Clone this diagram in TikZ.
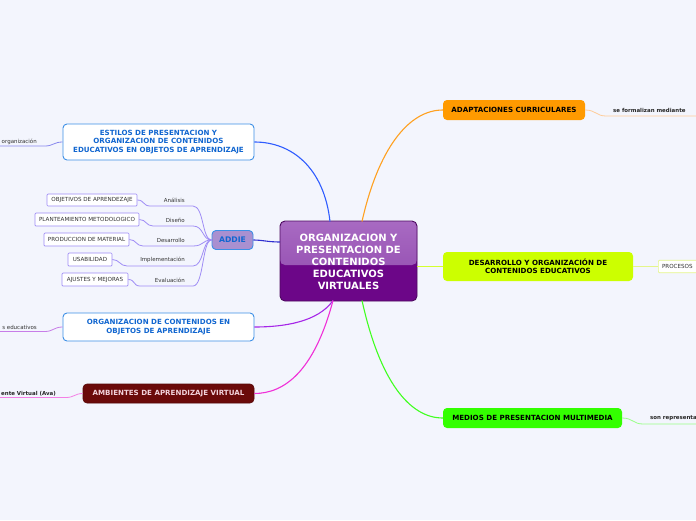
\documentclass[tikz,border=0pt]{standalone}
\usepackage{fontspec}
\setmainfont{DejaVu Sans}
\definecolor{bg}{HTML}{F3F5FD}
\definecolor{blueb}{HTML}{3D8FE6}
\definecolor{bluet}{HTML}{1166D0}
\definecolor{addief}{HTML}{A990D0}
\definecolor{lav}{HTML}{9E8CF5}
\definecolor{txt}{HTML}{333333}
\definecolor{cTopA}{HTML}{A86AC2}
\definecolor{cTopB}{HTML}{8E46AC}
\definecolor{cBot}{HTML}{6C0688}
\definecolor{cBord}{HTML}{4D0A60}
\definecolor{orangef}{HTML}{FF9A00}
\definecolor{limef}{HTML}{CCFF00}
\definecolor{greenf}{HTML}{33FF00}
\definecolor{redf}{HTML}{6B0A0A}
\definecolor{redt}{HTML}{F3D3DC}
\definecolor{lBlue}{HTML}{2F5CFF}
\definecolor{lAddie}{HTML}{3030D0}
\definecolor{lPurple}{HTML}{A626E8}
\definecolor{lMag}{HTML}{F030D8}
\definecolor{lOrange}{HTML}{FFA020}
\definecolor{lLime}{HTML}{D4FF30}
\definecolor{lGreen}{HTML}{40FF20}
\definecolor{sBlue}{HTML}{8888EE}
\definecolor{sPurple}{HTML}{C77DE8}
\definecolor{sMag}{HTML}{F47FE5}
\definecolor{sOrange}{HTML}{FFCC99}
\definecolor{sLime}{HTML}{E4F58A}
\definecolor{sGreen}{HTML}{99FF88}
\begin{document}
\begin{tikzpicture}[x=1pt,y=-1pt,
  bigbox/.style={rounded corners=4pt, align=center, inner sep=0pt, font=\bfseries\fontsize{7.1}{8.5}\selectfont},
  whitebox/.style={bigbox, draw=blueb, fill=white, line width=0.9pt, text=bluet},
  childbox/.style={draw=lav, fill=white, line width=0.7pt, rounded corners=1pt, inner sep=0pt, text=txt, font=\fontsize{5.6}{6.5}\selectfont},
  smalllbl/.style={inner sep=0pt, text=txt, font=\fontsize{5.5}{6.5}\selectfont},
  boldlbl/.style={inner sep=0pt, text=black!85, font=\bfseries\fontsize{5.45}{6.5}\selectfont},
  mainline/.style={line width=1.1pt},
  subline/.style={line width=0.8pt}]
\useasboundingbox[fill=bg] (0,0) rectangle (696,520);

% central node
\node[draw=cBord, line width=0.9pt, fill=cBot, rounded corners=5pt, minimum width=137pt, minimum height=80pt, inner sep=0pt,
  path picture={\shade[top color=cTopA, bottom color=cTopB] (path picture bounding box.north west) rectangle ([yshift=-4pt]path picture bounding box.east);}]
  (c) at (348.5,261) {};
\node[text=white, align=center, font=\bfseries\fontsize{10}{12}\selectfont, inner sep=0pt] (ct) at (348.5,262)
  {ORGANIZACION Y\\PRESENTACION DE\\CONTENIDOS\\EDUCATIVOS\\VIRTUALES};

% main nodes left
\node[whitebox, minimum width=191pt, minimum height=36pt] (est) at (158.5,142)
  {ESTILOS DE PRESENTACION Y\\ORGANIZACION DE CONTENIDOS\\EDUCATIVOS EN OBJETOS DE APRENDIZAJE};
\node[bigbox, draw=blueb, fill=addief, line width=0.9pt, text=bluet, minimum width=41pt, minimum height=19pt, font=\bfseries\fontsize{7.7}{9}\selectfont] (addie) at (232.5,240) {ADDIE};
\node[whitebox, minimum width=191pt, minimum height=28pt] (org) at (158.5,327)
  {ORGANIZACION DE CONTENIDOS EN\\OBJETOS DE APRENDIZAJE};
\node[bigbox, draw=redf!80!black, fill=redf, line width=0.6pt, text=redt, minimum width=171pt, minimum height=19pt] (amb) at (168.5,393.5)
  {AMBIENTES DE APRENDIZAJE VIRTUAL};

% main nodes right
\node[bigbox, fill=orangef, text=black, minimum width=142pt, minimum height=20pt] (ada) at (514,110) {ADAPTACIONES CURRICULARES};
\node[bigbox, fill=limef, text=black, minimum width=190pt, minimum height=29pt] (des) at (538,266.5)
  {DESARROLLO Y ORGANIZACIÓN DE\\CONTENIDOS EDUCATIVOS};
\node[bigbox, fill=greenf, text=black, minimum width=179pt, minimum height=20pt] (med) at (532.5,418) {MEDIOS DE PRESENTACION MULTIMEDIA};

% connectors from center
\coordinate (c1) at (330,221.5);
\coordinate (c2) at (362,221.5);
\coordinate (c3) at (333,300.5);
\coordinate (c4) at (362,300.5);
\coordinate (cl) at (280,242);
\draw[mainline, lBlue] (c1) .. controls (324,168) and (292,142) .. (est.east);
\draw[mainline, lAddie] (cl) .. controls (268,242) and (262,240) .. (addie.east);
\draw[mainline, lPurple] (c3) .. controls (318,322) and (284,327) .. (org.east);
\draw[mainline, lMag] (c3) .. controls (314,372) and (284,393.5) .. (amb.east);
\draw[mainline, lOrange] (c2) .. controls (378,150) and (408,110) .. (ada.west);
\draw[mainline, lLime] (c.east |- des.west) -- (des.west);
\draw[mainline, lGreen] (c4) .. controls (380,382) and (410,418) .. (med.west);

% ESTILOS left label
\node[smalllbl, anchor=south east] (l1) at (37,144.5) {organización};
\coordinate (l1e) at (0,146);
\draw[subline, sBlue] (l1e) -- (45,146) .. controls (53,146) and (54,142) .. (est.west);

% ORGANIZACION left label
\node[smalllbl, anchor=south east] (l2) at (37,330) {s educativos};
\coordinate (l2e) at (0,331.5);
\draw[subline, sPurple] (l2e) -- (45,331.5) .. controls (53,331.5) and (54,327) .. (org.west);

% AMBIENTES left label
\node[boldlbl, anchor=south east] (l3) at (56,396) {ente Virtual (Ava)};
\coordinate (l3e) at (0,397.5);
\draw[subline, sMag] (l3e) -- (66,397.5) .. controls (74,397.5) and (75,393.5) .. (amb.west);

% ADAPTACIONES right label
\node[boldlbl, anchor=south west] (r1) at (613,112.5) {se formalizan mediante};
\coordinate (r1e) at (696,116);
\draw[subline, sOrange] (ada.east) .. controls (596,110) and (596,116) .. (606,116) -- (r1e);

% DESARROLLO right box
\node[draw=sLime, fill=white, line width=0.7pt, rounded corners=1pt, anchor=west, minimum height=12.5pt, minimum width=42pt, inner sep=0pt, text=txt, font=\fontsize{5.6}{6.5}\selectfont] (proc) at (658,266.5) {\hspace*{-4pt}PROCESOS};
\draw[subline, sLime] (des.east) -- (proc.west);

% MEDIOS right label
\node[boldlbl, anchor=south west] (r3) at (650,420.5) {son representa};
\coordinate (r3e) at (696,424);
\draw[subline, sGreen] (med.east) .. controls (633,418) and (633,424) .. (643,424) -- (r3e);

% ADDIE children
\node[childbox, minimum width=90pt, minimum height=12pt] (b1) at (92,200) {OBJETIVOS DE APRENDEZAJE};
\node[childbox, minimum width=104pt, minimum height=13pt] (b2) at (87,219.5) {PLANTEAMIENTO METODOLOGICO};
\node[childbox, minimum width=85pt, minimum height=13pt] (b3) at (86.5,239.5) {PRODUCCION DE MATERIAL};
\node[childbox, minimum width=44pt, minimum height=13pt] (b4) at (90,259.5) {USABILIDAD};
\node[childbox, minimum width=66pt, minimum height=13pt] (b5) at (95,279.5) {AJUSTES Y MEJORAS};

\node[smalllbl, anchor=east] (a1) at (185,200) {Análisis};
\node[smalllbl, anchor=east] (a2) at (185,220) {Diseño};
\node[smalllbl, anchor=east] (a3) at (185,240) {Desarrollo};
\node[smalllbl, anchor=east] (a4) at (185,260) {Implementación};
\node[smalllbl, anchor=east] (a5) at (185,280) {Evaluación};

\foreach \b/\yu/\xs in {b1/206/150, b2/226/153, b3/246/143, b4/266/127, b5/286/140} {
  \draw[subline, lav] (addie.west) .. controls (202,240) and (204,\yu) .. (193,\yu) -- (\xs,\yu)
     .. controls ({\xs-7},\yu) and ([xshift=7pt]\b.east) .. (\b.east);
}
\end{tikzpicture}
\end{document}
